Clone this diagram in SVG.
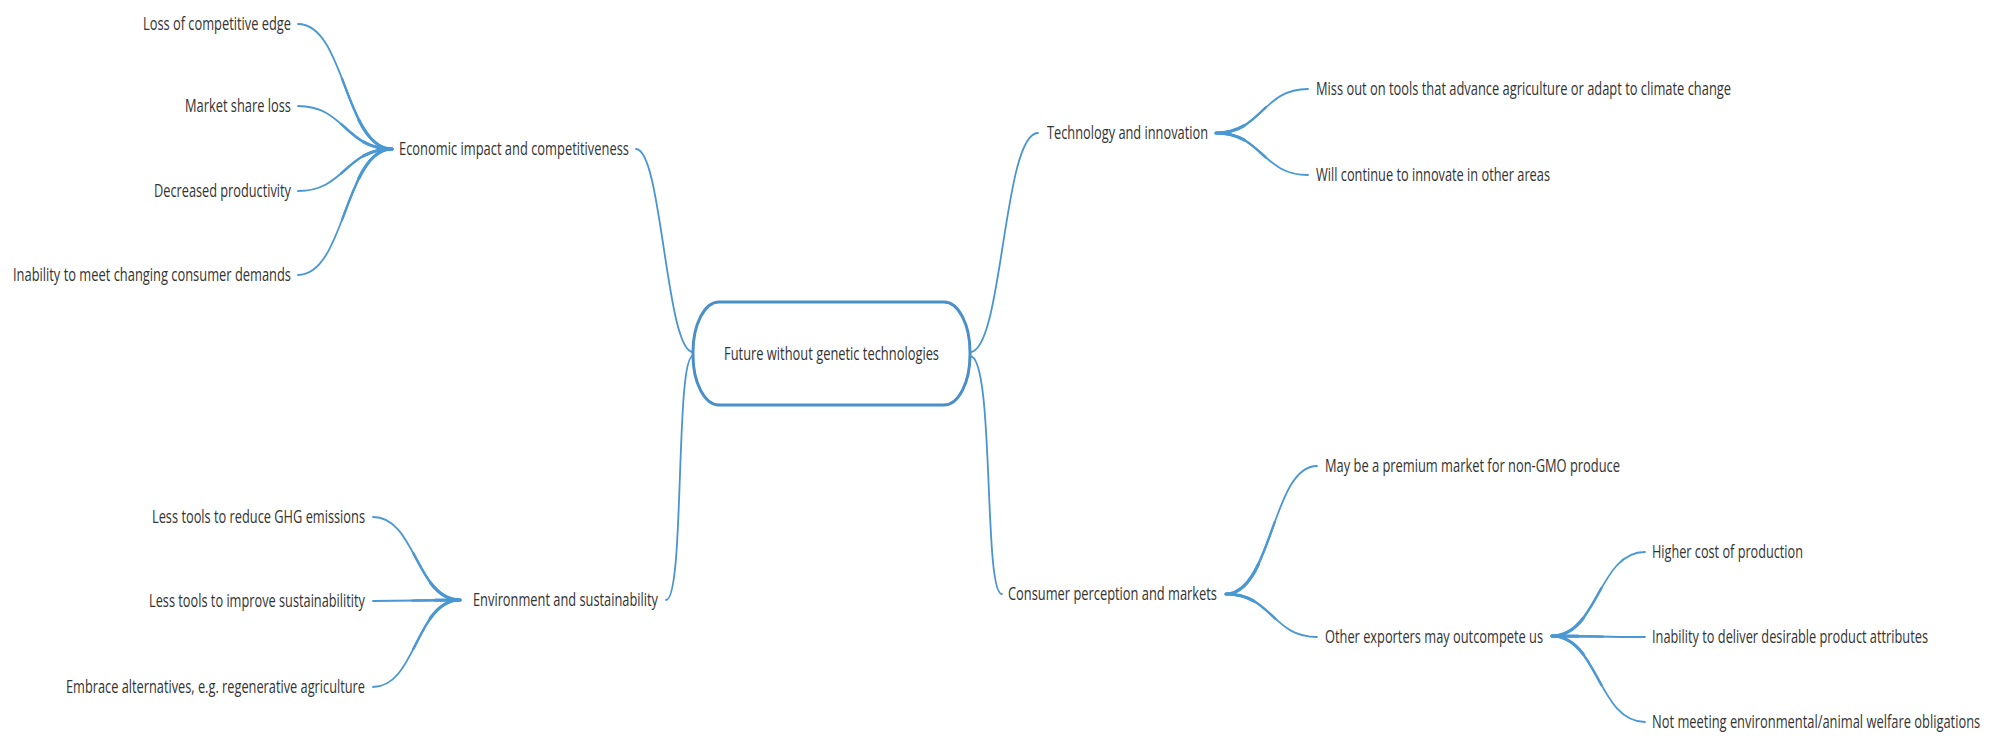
<svg xmlns="http://www.w3.org/2000/svg" xmlns:xlink="http://www.w3.org/1999/xlink" width="2004" height="738" viewBox="0 0 2004 738">
  <style>
    text { font-family: "Open Sans", "Noto Sans", "Liberation Sans", sans-serif; font-size: 19px; fill: #333333; }
    .r { text-anchor: end; }
    .base { fill: none; stroke: #4a98d3; stroke-width: 1.8; stroke-linecap: round; }
    .taper { fill: none; stroke: #4a98d3; stroke-width: 3.2; stroke-linecap: round; stroke-dasharray: 28 200; }
    .taper2 { fill: none; stroke: #4a98d3; stroke-width: 2.4; stroke-linecap: round; stroke-dasharray: 55 200; }
    .prim { fill: none; stroke: #4a94cf; stroke-width: 1.8; stroke-linecap: round; }
    .center { fill: #ffffff; stroke: #4b8fc8; stroke-width: 3; }
  </style>
  <defs>
    <path id="e1" pathLength="100" d="M 392 149 C 345 149, 345 24, 298 24"/>
    <path id="e2" pathLength="100" d="M 392 149 C 345 149, 345 106, 298 106"/>
    <path id="e3" pathLength="100" d="M 392 149 C 345 149, 345 191, 298 191"/>
    <path id="e4" pathLength="100" d="M 392 149 C 345 149, 345 275, 298 275"/>
    <path id="v1" pathLength="100" d="M 460 600 C 416 600, 416 517, 373 517"/>
    <path id="v2" pathLength="100" d="M 460 600 C 416 600, 416 601, 373 601"/>
    <path id="v3" pathLength="100" d="M 460 600 C 416 600, 416 687, 373 687"/>
    <path id="t1" pathLength="100" d="M 1216 133 C 1262 133, 1262 89, 1308 89"/>
    <path id="t2" pathLength="100" d="M 1216 133 C 1262 133, 1262 175, 1308 175"/>
    <path id="c1" pathLength="100" d="M 1226 594 C 1272 594, 1272 466, 1317 466"/>
    <path id="c2" pathLength="100" d="M 1226 594 C 1272 594, 1272 637, 1317 637"/>
    <path id="o1" pathLength="100" d="M 1552 636 C 1598 636, 1598 552, 1645 552"/>
    <path id="o2" pathLength="100" d="M 1552 636 C 1598 636, 1598 637, 1645 637"/>
    <path id="o3" pathLength="100" d="M 1552 636 C 1598 636, 1598 722, 1645 722"/>
  </defs>

  <g id="connectors">
    <path class="prim" d="M 693 352 C 666 352, 662 149, 636 149"/>
    <path class="prim" d="M 693 356 C 675 356, 685 600, 666 600"/>
    <path class="prim" d="M 970 352 C 1003 352, 1003 133, 1038 133"/>
    <path class="prim" d="M 970 356 C 995 356, 983 594, 1002 594"/>

    <use href="#e1" class="base"/><use href="#e1" class="taper2"/><use href="#e1" class="taper"/>
    <use href="#e2" class="base"/><use href="#e2" class="taper2"/><use href="#e2" class="taper"/>
    <use href="#e3" class="base"/><use href="#e3" class="taper2"/><use href="#e3" class="taper"/>
    <use href="#e4" class="base"/><use href="#e4" class="taper2"/><use href="#e4" class="taper"/>
    <use href="#v1" class="base"/><use href="#v1" class="taper2"/><use href="#v1" class="taper"/>
    <use href="#v2" class="base"/><use href="#v2" class="taper2"/><use href="#v2" class="taper"/>
    <use href="#v3" class="base"/><use href="#v3" class="taper2"/><use href="#v3" class="taper"/>
    <use href="#t1" class="base"/><use href="#t1" class="taper2"/><use href="#t1" class="taper"/>
    <use href="#t2" class="base"/><use href="#t2" class="taper2"/><use href="#t2" class="taper"/>
    <use href="#c1" class="base"/><use href="#c1" class="taper2"/><use href="#c1" class="taper"/>
    <use href="#c2" class="base"/><use href="#c2" class="taper2"/><use href="#c2" class="taper"/>
    <use href="#o1" class="base"/><use href="#o1" class="taper2"/><use href="#o1" class="taper"/>
    <use href="#o2" class="base"/><use href="#o2" class="taper2"/><use href="#o2" class="taper"/>
    <use href="#o3" class="base"/><use href="#o3" class="taper2"/><use href="#o3" class="taper"/>
  </g>

  <g id="node-center">
    <rect class="center" x="693" y="302" width="277" height="103" rx="26" ry="50"/>
    <text x="724" y="360" textLength="215" lengthAdjust="spacingAndGlyphs">Future without genetic technologies</text>
  </g>

  <g id="node-economic">
    <text x="399" y="155" textLength="230" lengthAdjust="spacingAndGlyphs">Economic impact and competitiveness</text>
  </g>
  <g id="node-loss-edge">
    <text class="r" x="291" y="30" textLength="148" lengthAdjust="spacingAndGlyphs">Loss of competitive edge</text>
  </g>
  <g id="node-market-share">
    <text class="r" x="291" y="112" textLength="106" lengthAdjust="spacingAndGlyphs">Market share loss</text>
  </g>
  <g id="node-productivity">
    <text class="r" x="291" y="197" textLength="137" lengthAdjust="spacingAndGlyphs">Decreased productivity</text>
  </g>
  <g id="node-consumer-demands">
    <text class="r" x="291" y="281" textLength="278" lengthAdjust="spacingAndGlyphs">Inability to meet changing consumer demands</text>
  </g>

  <g id="node-environment">
    <text x="473" y="606" textLength="185" lengthAdjust="spacingAndGlyphs">Environment and sustainability</text>
  </g>
  <g id="node-ghg">
    <text class="r" x="365" y="523" textLength="213" lengthAdjust="spacingAndGlyphs">Less tools to reduce GHG emissions</text>
  </g>
  <g id="node-sustainability">
    <text class="r" x="365" y="607" textLength="216" lengthAdjust="spacingAndGlyphs">Less tools to improve sustainabilitity</text>
  </g>
  <g id="node-alternatives">
    <text class="r" x="365" y="693" textLength="299" lengthAdjust="spacingAndGlyphs">Embrace alternatives, e.g. regenerative agriculture</text>
  </g>

  <g id="node-technology">
    <text x="1047" y="139" textLength="161" lengthAdjust="spacingAndGlyphs">Technology and innovation</text>
  </g>
  <g id="node-miss-out">
    <text x="1316" y="95" textLength="415" lengthAdjust="spacingAndGlyphs">Miss out on tools that advance agriculture or adapt to climate change</text>
  </g>
  <g id="node-continue">
    <text x="1316" y="181" textLength="234" lengthAdjust="spacingAndGlyphs">Will continue to innovate in other areas</text>
  </g>

  <g id="node-consumer">
    <text x="1008" y="600" textLength="209" lengthAdjust="spacingAndGlyphs">Consumer perception and markets</text>
  </g>
  <g id="node-premium">
    <text x="1325" y="472" textLength="295" lengthAdjust="spacingAndGlyphs">May be a premium market for non-GMO produce</text>
  </g>
  <g id="node-exporters">
    <text x="1325" y="643" textLength="218" lengthAdjust="spacingAndGlyphs">Other exporters may outcompete us</text>
  </g>
  <g id="node-cost">
    <text x="1652" y="558" textLength="151" lengthAdjust="spacingAndGlyphs">Higher cost of production</text>
  </g>
  <g id="node-attributes">
    <text transform="translate(1652 643) scale(0.6 1)" x="0" y="0" textLength="460" lengthAdjust="spacingAndGlyphs">Inability to deliver desirable product attributes</text>
  </g>
  <g id="node-obligations">
    <text transform="translate(1652 728) scale(0.6 1)" x="0" y="0" textLength="547" lengthAdjust="spacingAndGlyphs">Not meeting environmental/animal welfare obligations</text>
  </g>
</svg>
